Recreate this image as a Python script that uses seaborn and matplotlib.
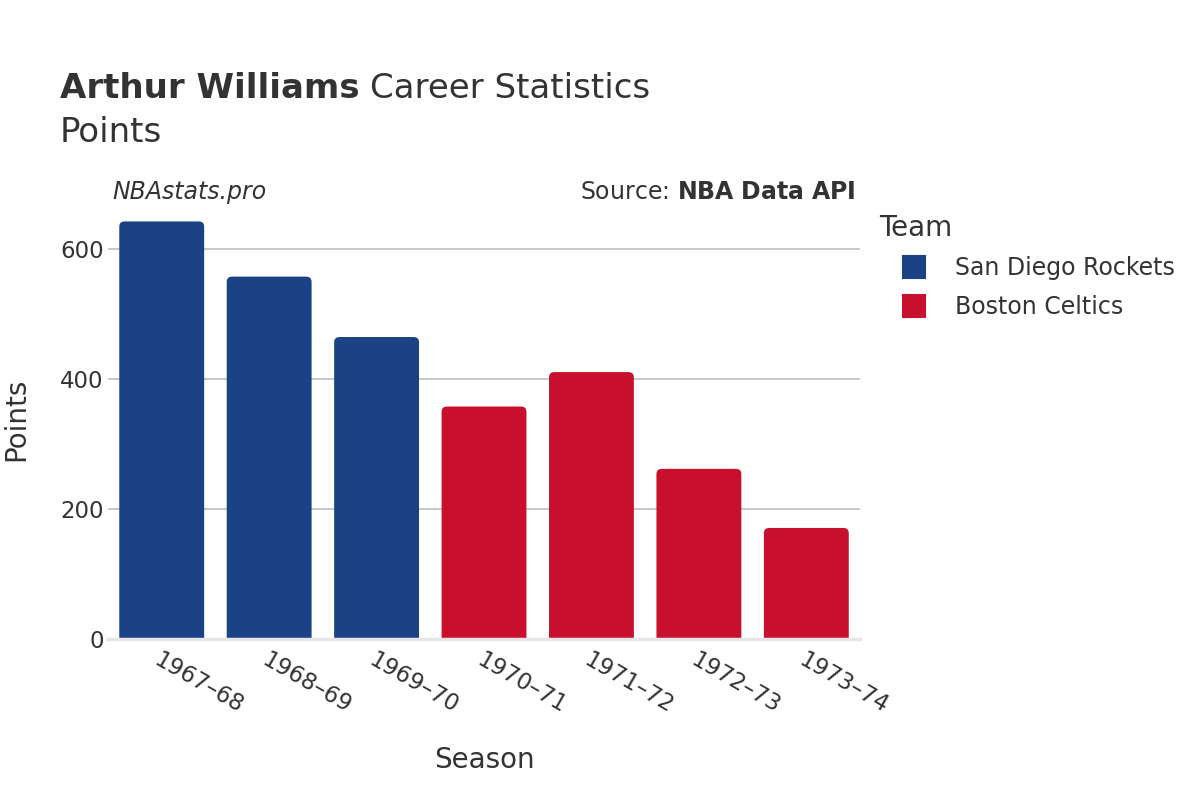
import numpy as np
import pandas as pd
import seaborn as sns
import matplotlib.pyplot as plt
from matplotlib.patches import FancyBboxPatch
from matplotlib.lines import Line2D

sns.set_style('white')
plt.rcParams['font.family'] = ['DejaVu Sans']

seasons = ['1967–68', '1968–69', '1969–70', '1970–71', '1971–72', '1972–73', '1973–74']
points = [643, 558, 465, 358, 411, 262, 171]
teams = ['San Diego Rockets', 'San Diego Rockets', 'San Diego Rockets',
         'Boston Celtics', 'Boston Celtics', 'Boston Celtics', 'Boston Celtics']
team_colors = {'San Diego Rockets': '#1c4286', 'Boston Celtics': '#c8102e'}

df = pd.DataFrame({'Season': seasons, 'Points': points, 'Team': teams})

text_col = '#333333'
fig = plt.figure(figsize=(12, 8), dpi=100)
ax = fig.add_axes([0.09, 0.20125, 0.6267, 0.54875])

sns.barplot(data=df, x='Season', y='Points', hue='Team', palette=team_colors,
            dodge=False, width=0.79, ax=ax, legend=False, saturation=1)

# rounded bar tops
for p in list(ax.patches):
    x0, w, h = p.get_x(), p.get_width(), p.get_height()
    fc = p.get_facecolor()
    p.remove()
    if h == 0 or np.isnan(h):
        continue
    ax.add_patch(FancyBboxPatch((x0, -20), w, h + 20,
                                boxstyle='round,pad=0,rounding_size=0.05',
                                mutation_aspect=160, fc=fc, ec='none', zorder=2))

ax.set_xlim(-0.5, 6.5)
ax.set_ylim(0, 676)
ax.set_yticks([0, 200, 400, 600])
ax.grid(axis='y', color='#bfbfbf', linewidth=1.2, zorder=0)
ax.set_axisbelow(True)
for s in ['top', 'right', 'left']:
    ax.spines[s].set_visible(False)
ax.spines['bottom'].set_color('#e6e6e6')
ax.spines['bottom'].set_linewidth(2.5)
ax.tick_params(axis='both', length=0, labelsize=16.5, colors=text_col)
ax.tick_params(axis='y', pad=3)
ax.tick_params(axis='x', pad=7)
for lbl in ax.get_xticklabels():
    lbl.set_rotation(-30)
    lbl.set_ha('left')
    lbl.set_va('top')
    lbl.set_rotation_mode('anchor')
ax.set_xlabel('Season', fontsize=20, color=text_col, va='center')
ax.set_ylabel('Points', fontsize=20, color=text_col, va='center')
ax.xaxis.set_label_coords(0.5, -0.276)
ax.yaxis.set_label_coords(-0.122, 0.5)

t1 = fig.text(0.05, 0.889, 'Arthur Williams', fontsize=24.5, color=text_col,
              fontweight='bold', va='center')
fig.canvas.draw()
bb = t1.get_window_extent()
fig.text(bb.x1 / 1200 + 0.009, 0.889, 'Career Statistics', fontsize=24.5,
         color=text_col, va='center')
fig.text(0.05, 0.835, 'Points', fontsize=24.5, color=text_col, va='center')
fig.text(0.094, 0.76, 'NBAstats.pro', fontsize=17, style='italic',
         color=text_col, va='center')
fig.text(0.713, 0.76, r'Source: $\bf{NBA\ Data\ API}$', fontsize=17,
         color=text_col, va='center', ha='right')

handles = [Line2D([0], [0], marker='s', linestyle='none', markersize=16,
                  markerfacecolor=team_colors[t], markeredgecolor=team_colors[t],
                  markeredgewidth=1.5)
           for t in team_colors]
leg = fig.legend(handles, list(team_colors), title='Team', loc='upper left',
                 bbox_to_anchor=(0.7325, 0.733), frameon=False, fontsize=17,
                 title_fontsize=20, handlelength=3, handletextpad=0.2,
                 labelspacing=0.62, borderpad=0, borderaxespad=0)
leg._legend_box.align = 'left'
for t in leg.get_texts():
    t.set_color(text_col)
leg.get_title().set_color(text_col)

fig.savefig('out.png', dpi=100)
